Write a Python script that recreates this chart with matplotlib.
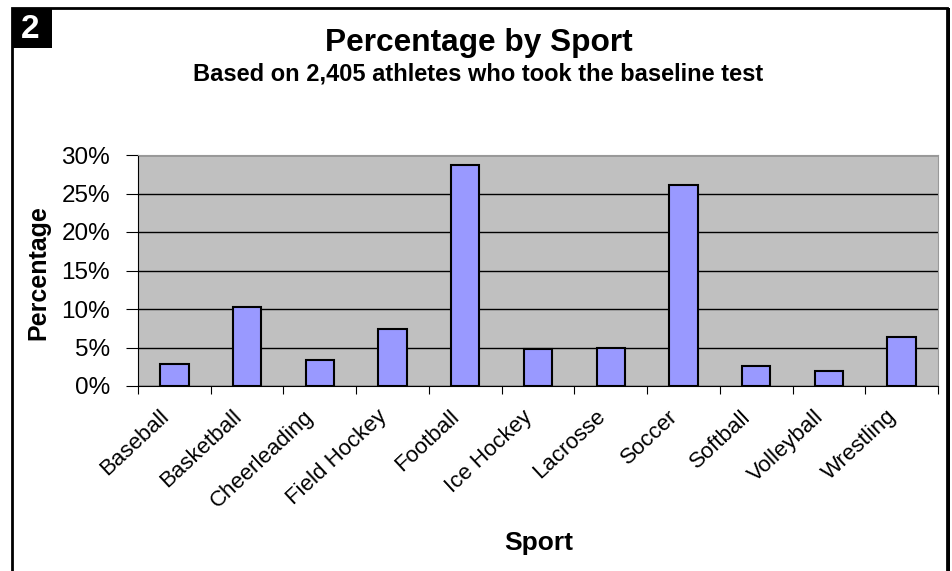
import numpy as np
import matplotlib.pyplot as plt
from matplotlib.patches import Rectangle
from matplotlib.ticker import FuncFormatter

plt.rcParams['font.family'] = ['Liberation Sans', 'DejaVu Sans']

sports = ['Baseball', 'Basketball', 'Cheerleading', 'Field Hockey', 'Football',
          'Ice Hockey', 'Lacrosse', 'Soccer', 'Softball', 'Volleyball', 'Wrestling']
pct = [2.9, 10.2, 3.4, 7.35, 28.7, 4.75, 5.0, 26.1, 2.6, 1.9, 6.3]

fig = plt.figure(figsize=(9.52, 5.71), dpi=100)
ax = fig.add_axes([138 / 952, 1 - 386 / 571, 800 / 952, 231 / 571])

x = np.arange(len(sports))
ax.bar(x, pct, width=0.39, color='#9999FF', edgecolor='black', linewidth=1.5, zorder=3)

ax.set_facecolor('#C0C0C0')
ax.set_xlim(-0.5, len(sports) - 0.5)
ax.set_ylim(0, 30)
ax.set_yticks(range(0, 31, 5))
ax.yaxis.set_major_formatter(FuncFormatter(lambda v, p: f'{v:.0f}%'))
ax.yaxis.grid(True, color='black', linewidth=1, zorder=1)
ax.set_axisbelow(True)

# ticks sit on category boundaries, labels are placed by hand under each bar
ax.set_xticks(np.arange(-0.5, len(sports), 1))
ax.set_xticklabels([])
ax.tick_params(axis='x', length=6, color='black', direction='out')
ax.tick_params(axis='y', length=9, labelsize=17.5, pad=11)
for i, name in enumerate(sports):
    ax.text(i - 0.12, -0.12, name, transform=ax.get_xaxis_transform(), rotation=43,
            ha='right', va='center', rotation_mode='anchor', fontsize=16)

for s in ['top', 'right']:
    ax.spines[s].set_color('#999999')
for s in ['left', 'bottom']:
    ax.spines[s].set_color('black')

fig.text(38 / 952, 1 - 273 / 571, 'Percentage', rotation=90, ha='center', va='center',
         fontsize=18, fontweight='bold')
fig.text(539 / 952, 1 - 543 / 571, 'Sport', ha='center', va='center', fontsize=19, fontweight='bold')

fig.text(479 / 952, 1 - 43 / 571, 'Percentage by Sport', ha='center', va='center', fontsize=22.8, fontweight='bold')
fig.text(478 / 952, 1 - 74 / 571, 'Based on 2,405 athletes who took the baseline test',
         ha='center', va='center', fontsize=17, fontweight='bold')

# outer frame and number badge
fig.patches.append(Rectangle((12 / 952, -0.01), 935 / 952, 1 - 8 / 571 + 0.01, transform=fig.transFigure,
                             fill=False, edgecolor='black', linewidth=2))
fig.patches.append(Rectangle((947 / 952, -0.01), 3 / 952, 1 - 8 / 571 + 0.01, transform=fig.transFigure,
                             facecolor='black', edgecolor='none'))
fig.patches.append(Rectangle((12 / 952, 1 - 48 / 571), 40 / 952, 40 / 571, transform=fig.transFigure,
                             facecolor='black', edgecolor='none'))
fig.text(30 / 952, 1 - 30 / 571, '2', ha='center', va='center', color='white', fontsize=24, fontweight='bold')

fig.savefig('out.png', dpi=100)
